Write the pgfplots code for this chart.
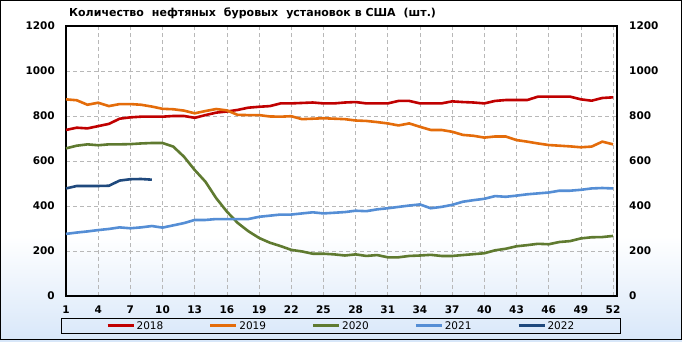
\documentclass[border=0pt]{standalone}
\usepackage{fontspec}
\setmainfont{DejaVu Sans}
\usepackage{pgfplots}
\usepackage{pgfplotstable}
\pgfplotsset{compat=1.18}
\definecolor{c18}{HTML}{C00000}
\definecolor{c19}{HTML}{E46C0A}
\definecolor{c20}{HTML}{5F7A30}
\definecolor{c21}{HTML}{558ED5}
\definecolor{c22}{HTML}{1F497D}
\definecolor{bgblue}{HTML}{D8E7F9}
\pgfplotstableread{
w y18 y19 y20 y21
1 738 874 656 276
2 748 870 668 282
3 745 850 674 287
4 755 859 670 293
5 765 844 674 298
6 788 853 674 305
7 794 853 675 301
8 797 850 678 305
9 797 842 680 311
10 797 832 680 304
11 800 830 664 314
12 800 824 619 324
13 792 812 560 338
14 804 822 508 338
15 815 831 435 342
16 820 825 375 342
17 827 805 325 342
18 837 804 288 342
19 841 804 258 352
20 844 798 237 357
21 856 797 222 362
22 856 799 205 362
23 858 786 198 367
24 860 788 188 372
25 856 790 188 367
26 856 788 185 370
27 860 786 180 373
28 862 780 185 379
29 856 778 178 377
30 856 773 182 385
31 856 767 172 390
32 867 758 172 396
33 867 767 178 402
34 856 752 180 407
35 856 738 183 390
36 856 738 178 396
37 865 730 178 405
38 862 716 182 419
39 860 712 186 426
40 856 704 190 432
41 867 709 203 444
42 871 709 210 441
43 871 693 221 446
44 871 686 226 452
45 886 678 232 456
46 886 671 230 460
47 886 668 240 468
48 886 665 244 468
49 874 661 256 472
50 868 664 261 478
51 880 686 262 480
52 883 674 267 478
}\mainT
\pgfplotstableread{
w y22
1 478
2 489
3 489
4 489
5 490
6 513
7 519
8 520
9 517
}\tTwo
\newcommand{\gap}{\hspace{8pt}}
\begin{document}
\begin{tikzpicture}[x=1pt,y=1pt]
\path[use as bounding box] (0,0) rectangle (682,341);
\fill[white] (0,0) rectangle (682,341);
\shade[top color=white, bottom color=bgblue] (0,0) rectangle (682,105);
\draw[black, line width=1pt] (0.6,1.6) rectangle (681.4,340.4);
\node[anchor=base west, inner sep=0pt, font=\bfseries\fontsize{11}{13}\selectfont] at (69,324.3)
  {Количество\gap нефтяных\gap буровых\gap установок в США\gap (шт.)};
\begin{axis}[
  at={(66pt,45pt)}, anchor=south west,
  width=551pt, height=270pt, scale only axis,
  xmin=1, xmax=52.37, ymin=0, ymax=1200,
  xtick={1,4,...,52}, ytick={0,200,...,1200},
  major tick length=0pt,
  axis line style={black, line width=1.2pt},
  grid=major,
  major grid style={color=black!28, dash pattern=on 4pt off 3pt, line width=0.7pt},
  tick label style={font=\bfseries\fontsize{10.5}{12}\selectfont, inner sep=0pt},
  yticklabel style={xshift=-11pt},
  xticklabel style={yshift=-9.5pt},
  /pgf/number format/assume math mode=true,
  /pgf/number format/1000 sep={},
  clip=false,
  legend columns=5,
  legend style={at={(0.499,-0.111)}, anchor=center, draw=black, line width=0.8pt, fill=none,
    inner xsep=45pt, inner ysep=1.5pt,
    font=\fontsize{10.5}{12}\selectfont,
    nodes={inner xsep=1.5pt, inner ysep=1pt},
    /tikz/every even column/.append style={column sep=44pt}},
  legend image code/.code={\draw[#1, line width=3pt] (0pt,0pt) -- (26pt,0pt);},
  every axis plot/.append style={line width=2.6pt, line join=round, no markers},
]
\addplot[c18] table[x=w,y=y18] {\mainT};
\addlegendentry{2018}
\addplot[c19] table[x=w,y=y19] {\mainT};
\addlegendentry{2019}
\addplot[c20] table[x=w,y=y20] {\mainT};
\addlegendentry{2020}
\addplot[c21] table[x=w,y=y21] {\mainT};
\addlegendentry{2021}
\addplot[c22] table[x=w,y=y22] {\tTwo};
\addlegendentry{2022}
\end{axis}
\begin{axis}[
  at={(66pt,45pt)}, anchor=south west,
  width=551pt, height=270pt, scale only axis,
  xmin=1, xmax=52.37, ymin=0, ymax=1200,
  ytick={0,200,...,1200},
  axis y line*=right, hide x axis,
  major tick length=0pt,
  axis line style={black, line width=1.2pt},
  tick label style={font=\bfseries\fontsize{10.5}{12}\selectfont, inner sep=0pt},
  yticklabel style={xshift=12pt},
  /pgf/number format/assume math mode=true,
  /pgf/number format/1000 sep={},
]
\addplot[draw=none] coordinates {(1,0)};
\end{axis}
\end{tikzpicture}
\end{document}
